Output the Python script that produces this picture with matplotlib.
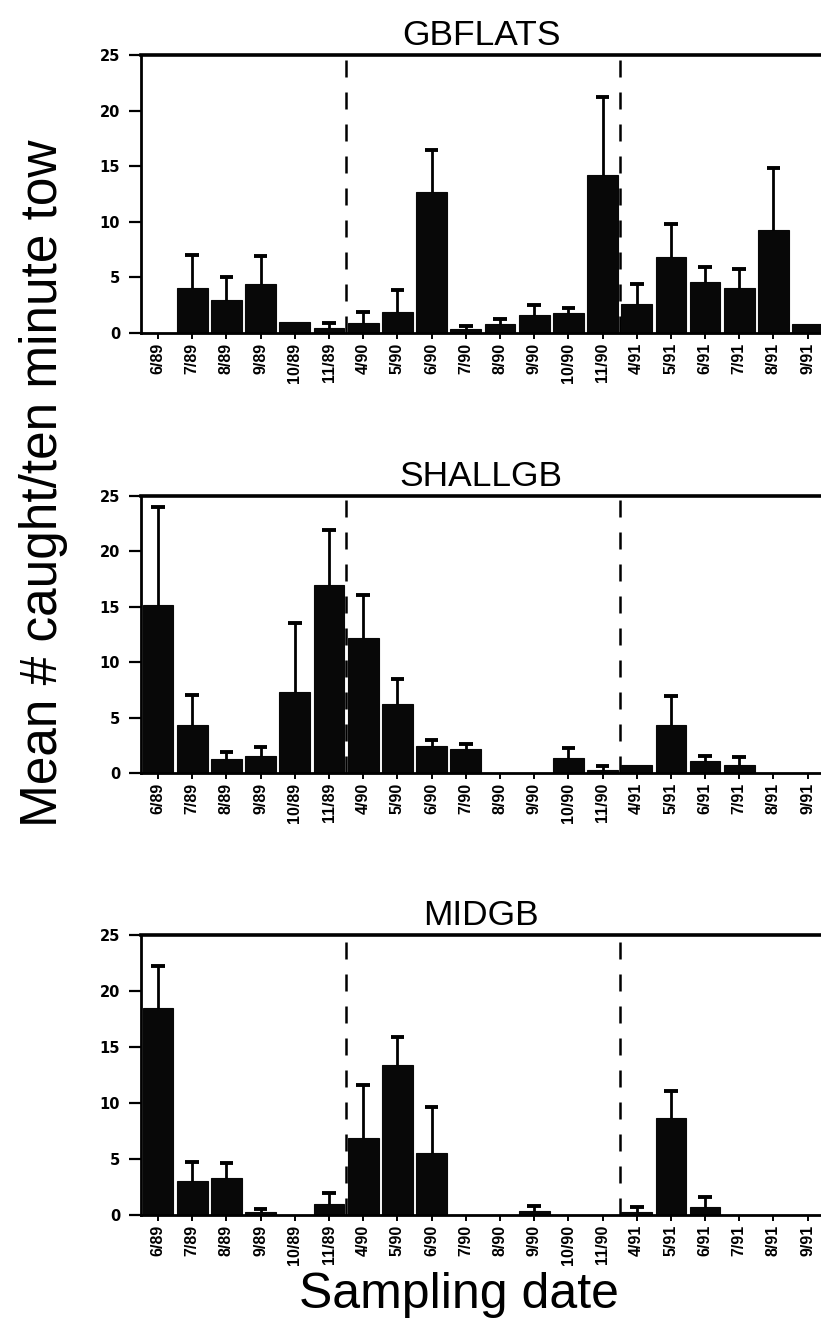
import numpy as np
import matplotlib
matplotlib.use("Agg")
import matplotlib.pyplot as plt

# Sampling dates (month/year)
dates = ["6/89", "7/89", "8/89", "9/89", "10/89", "11/89",
         "4/90", "5/90", "6/90", "7/90", "8/90", "9/90", "10/90", "11/90",
         "4/91", "5/91", "6/91", "7/91", "8/91", "9/91"]

# Mean catch per ten-minute tow and standard error, per stratum
gbflats_mean = [0.0, 4.05, 3.0, 4.45, 0.95, 0.45, 0.9, 1.9, 12.7, 0.35,
                0.85, 1.65, 1.8, 14.2, 2.6, 6.8, 4.6, 4.05, 9.3, 0.8]
gbflats_se = [0.0, 2.95, 2.0, 2.45, 0.0, 0.45, 0.95, 2.0, 3.8, 0.3,
              0.4, 0.85, 0.45, 7.0, 1.8, 3.0, 1.35, 1.7, 5.5, 0.0]

shallgb_mean = [15.2, 4.3, 1.3, 1.5, 7.3, 17.0, 12.2, 6.2, 2.4, 2.15,
                0.0, 0.0, 1.35, 0.3, 0.75, 4.3, 1.05, 0.7, 0.0, 0.0]
shallgb_se = [8.8, 2.7, 0.6, 0.85, 6.2, 4.9, 3.9, 2.3, 0.6, 0.5,
              0.0, 0.0, 0.95, 0.3, 0.0, 2.65, 0.5, 0.7, 0.0, 0.0]

midgb_mean = [18.5, 3.05, 3.3, 0.3, 0.0, 0.95, 6.9, 13.4, 5.5, 0.0,
              0.0, 0.4, 0.0, 0.0, 0.3, 8.7, 0.7, 0.0, 0.0, 0.0]
midgb_se = [3.7, 1.7, 1.3, 0.2, 0.0, 1.0, 4.75, 2.5, 4.1, 0.0,
            0.0, 0.4, 0.0, 0.0, 0.45, 2.35, 0.95, 0.0, 0.0, 0.0]

panels = [
    ("GBFLATS", gbflats_mean, gbflats_se),
    ("SHALLGB", shallgb_mean, shallgb_se),
    ("MIDGB", midgb_mean, midgb_se),
]

# Season boundaries (between 11/89 | 4/90 and 11/90 | 4/91)
season_breaks = [5.5, 13.5]
yticks = [0, 5, 10, 15, 20, 25]

W, H = 821, 1336
fig = plt.figure(figsize=(W / 100, H / 100), dpi=100)
fig.patch.set_facecolor("white")

sans = ["Liberation Sans", "DejaVu Sans"]

# axes boxes in pixels: (left, top, bottom)
boxes = [(141, 55, 333), (141, 496, 773), (141, 935, 1215)]

x = np.arange(len(dates))
cap_half = 0.2
for (title, mean, se), (left, top, bottom) in zip(panels, boxes):
    ax = fig.add_axes([left / W, 1 - bottom / H, (W - left) / W, (bottom - top) / H])
    mean = np.asarray(mean)
    se = np.asarray(se)
    ax.bar(x, mean, width=0.9, color="#080808", edgecolor="#080808",
           linewidth=0.8, zorder=2)
    # upper error bars only, with a cap at the top
    has_err = se > 0
    xe, me, se_ = x[has_err], mean[has_err], se[has_err]
    ax.vlines(xe, me, me + se_, color="black", linewidth=2.0, zorder=3)
    ax.hlines(me + se_, xe - cap_half, xe + cap_half, color="black",
              linewidth=2.8, zorder=3)
    for b in season_breaks:
        ax.axvline(b, color="black", linewidth=1.8,
                   linestyle=(0, (6.8, 6)), zorder=1)

    ax.set_xlim(-0.5, 19.39)
    ax.set_ylim(0, 25)
    ax.set_yticks(yticks)
    ax.set_yticklabels([str(v) for v in yticks],
                       fontdict={"family": "DejaVu Sans", "weight": "bold",
                                 "size": 10.5})
    ax.set_xticks(x)
    ax.set_xticklabels(dates, rotation=90,
                       fontdict={"family": sans, "weight": "bold", "size": 11.5})
    ax.tick_params(axis="y", direction="out", length=9, width=1.6, pad=6)
    ax.tick_params(axis="x", direction="out", length=4.5, width=1.4, pad=2.5)
    for side in ("left", "bottom"):
        ax.spines[side].set_linewidth(2.0)
    ax.spines["top"].set_linewidth(2.6)
    ax.spines["right"].set_visible(False)
    ax.set_title(title, fontsize=25.5, family=sans, pad=7)

fig.text(0.053, 0.638, "Mean # caught/ten minute tow", rotation=90,
         ha="center", va="center", fontsize=37, family=sans)
fig.text(0.559, 0.021, "Sampling date", ha="center", va="baseline",
         fontsize=36, family=sans)

fig.savefig("out.png", dpi=100)
